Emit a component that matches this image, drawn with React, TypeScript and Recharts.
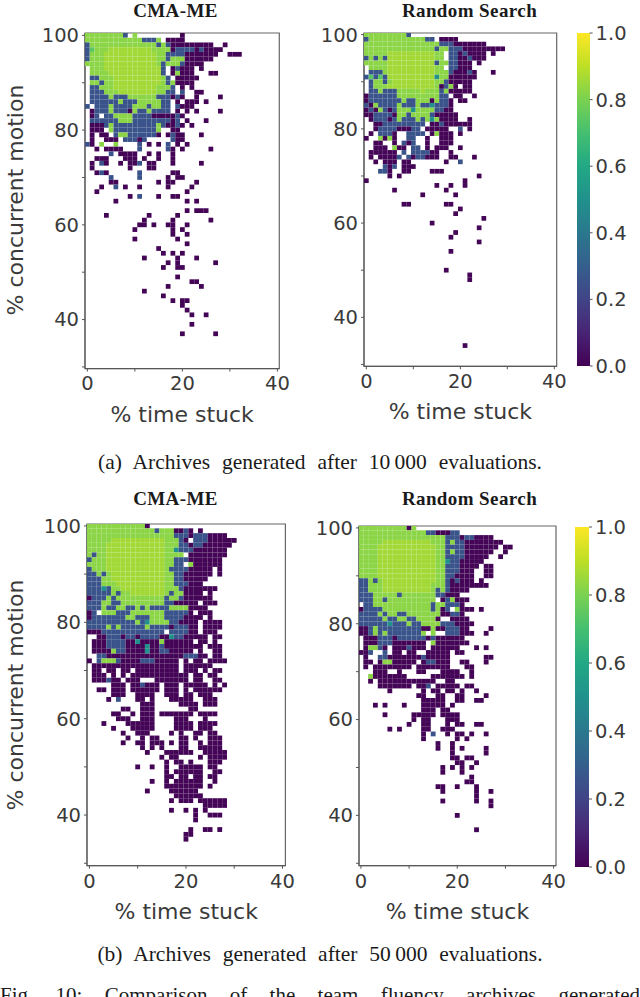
import { ScatterChart, Scatter, BarChart, Bar, XAxis, YAxis, ReferenceArea } from 'recharts'

// archive cells, one string per row starting at 100 % concurrent motion
// token = level letter + column (% time stuck), e.g. d3 or b12-14
const levelValues: Record<string, number> = { d: 0.01, b: 0.26, t: 0.5, g: 0.74, m: 0.825, l: 0.86 }

const cmaMe10k = [
  'm0-7 b8 m10 d20',
  'm0-11 b12-14 m15 d17-20',
  'b0 m1-14 b15 m16 b17 d18-26 d29',
  'b0 g1 m2-4 l5-13 m14-17 d18 b19-22 d23 b24 d25-28',
  'b0 m1-3 l4-14 m15-16 b17-20 d21-27 d30-32',
  'b0 m1-3 l4-14 m15-16 b17 m18-20 d21-26',
  'm0-3 l4-14 m15 b16 m17-19 b20 d21-24',
  'm1-3 l4-15 b16 d18 b19 d20-22 d24',
  'm1-4 l5-15 b16 d18 m19 d20-22 d26-27',
  'b1-2 m3-5 l6-15 m16 b17 d19-23',
  'm1-2 b3 m4-5 l6-15 m16 b17 m18 d19-22',
  'b1-2 m3-5 l6-14 m15-17 b18 d20 d22',
  'b1-3 m4-6 l7-14 m15-16 b17-18 b20 d23-24',
  'b1-4 m5 b6-8 m9-14 b15-17 d18 b19 d20 d23 d28',
  'b1-6 m7 b8-10 m11-15 b16-17 d19 d21-23 d25',
  'b0 b2-4 m5 b6-9 m10-12 b13 m14-15 b16-17 b19 d20-22',
  'd1 b2-4 m5 b6-8 d9 m10 b11-12 m13 b14-17 d19 d21 d23 d28',
  'd1 b2 b4-5 m6-9 b10-13 d14-18 b19 d20',
  'b1-6 m7-9 b10-17 d18 b19 d21 d25',
  'd1-3 b4 m5 b6-14 m15 b16 d17-18 b19 d20 d22',
  'd1-3 m5 b6-14 m15 d18-19',
  'd1 d3-4 b6 m7-8 b9-14 d15 d17 b18 d19-20 d24',
  'd1 d4-6 b8-10 d11 b12 b18 d19-20',
  'b0 d1 m3 m6 b11 d13 d15 b17 d19 d21',
  'd2 d4-7 b11 b17 d18 d20 d26',
  'b5 d7-10 d13 d15 d18',
  'd2-4 d8-10 d12 d15 d18',
  'd1 b3 d4 d7 d9-10 b11 d13-14 d18 d24',
  'd1 d9 d13-14',
  'd2 b3 d4 b11 d18-19',
  'b5 b11 d17 d19-20',
  'd5-6 d15 d17-18 d23',
  'd3 b6 d8 d11 d17 d22',
  'd2 d21',
  'd9 b11 d15 d18-19',
  'd6 d21 d23',
  '',
  'd21 d23-25',
  'd4 d13 d19',
  'd12 d18 d26',
  'd11-12 d14 d17-18 d21',
  'd10 d18 d20',
  'd18 d21',
  'd10 d19',
  'd21',
  'd15',
  'd16 d18 d20',
  'd12 d19 d23',
  'd17 d19 d27',
  'd16 d19-20',
  '',
  'd19',
  'd22-23',
  'd17 d24',
  'd12',
  'd16',
  'd18 d20-21',
  'd20',
  'd21',
  'd22 d25',
  '',
  'd22',
  '',
  'd20 d27',
]

const randomSearch10k = [
  'm0-8 b9',
  'b0 m1-12 b13-14 d16-19',
  'm0-15 b16-18 d19-25',
  'm0-14 b15 m16-17 b18-20 d21-29',
  'm0-4 l5-14 m15-16 b18-19 d20 b21 d22-25 d27',
  'b0 m1 b2 m3 b4 l5-14 m15-16 b18-19 d20-21 b22 d23-25',
  'm0-4 l5-14 b15 m16-17 b18-19 d20-22 d24',
  'm1-4 l5-14 m15-16 b18-19 d20-22',
  'b1-3 m4 l5-14 m15-17 b18 d19-21 b22 d23 d27',
  'b0 g1 b2 g3 b4 l5-14 t15 m16-17 d18-23',
  'b1 m2-3 b4 m5 l6-14 m15-16 b17 d18-22',
  'b1 m2-4 l5-14 m15 d16 b17 m18 d19 d21-22',
  'b1-2 m3 b4-6 m7-11 l12 m13-15 b16 m17 d18-22',
  'd0 b1-6 m7-15 b16-17 d19-20 d23',
  'd0 b1-7 m8 b9-10 m11-13 d14 m15 b16-17 d18 d20-21',
  'b0 d1 m2 b3-6 m7 b8-10 m11 b12-13 t14 b15-17 d18',
  'd0 b1 d2 m3 b4 d5 b6 m7-9 t10 m11-14 b15-16 d17-18',
  'd0-1 b2-5 d6 m7-8 b9 m10-13 b14 d15-19',
  'd1 b2-4 d5 b6 m7 b8-10 m11 b12 m13 t14 m15 d16-19 d22',
  'd2-3 b4-12 d14-15 b16 d17-22',
  'd2 b3-6 d7-9 b10-11 d13-17 b20 d22',
  'd1 b3-5 d6 b9-12 d14 m15 d16-18 d20',
  'd0 m3 d4 m5 d6 b9-10 d13 d16-18',
  'd2-3 d6 b8 d9 b10 d13 d16-18',
  'd2-4 m6 d7-8 b10-11 d13 d15-17 d20',
  'd1-6 b8 b10-12 b13 d14-15 d18',
  'd1 d3-6 b7 b9 d10 b11-12 d13-15 d18-19 d23',
  'd2 d4-6 d8-9 d17 b20',
  'b4 d5 b6 d8-10',
  'b3-4 d5 d8-9 d14-16',
  'd5 d7 d24',
  'd0 d21',
  'd15 d18 d21',
  'd6 d17',
  'd12 d19',
  '',
  'd8-9 d17-18',
  'd20',
  'd19',
  'd25',
  'd14',
  'd24',
  'd19',
  'd18',
  'd24',
  '',
  'd18',
  '',
  '',
  '',
  'd17',
  'd22',
  'd22',
  '',
  '',
  '',
  '',
  '',
  '',
  '',
  '',
  '',
  '',
  '',
  '',
  '',
  'd21',
]

const cmaMe50k = [
  'm0-11 d12',
  'm0-13 b14 m15-17 d18-19 b20 d21 d23',
  'm0-17 b18-20 d21 b22-24 d25-28',
  'm0-4 l5-15 m16-18 b19 d20 b22-24 d25-30',
  'm0-3 l4-15 m16-18 b19-20 d21 b22-23 d24-29',
  'm0-3 l4-15 m16-17 t18 b19-21 d22-28',
  'm0 b1 m2-3 l4-15 m16-18 m19 d21-28',
  'b0 m1-3 l4-15 m16-17 b18-20 d21-27',
  'm0-3 l4-15 m16-17 b18-19 m21 d22-27',
  'b0 m1-3 l4-15 m16 b17-20 d21-25 d27',
  'b0-1 m2 b3 m4 l5-15 m16-17 b18-20 d20-25 d27',
  'b0-2 m3-4 l5-15 m16-17 b18-20 d20-24',
  'b0-2 m3-5 l6-15 m16-17 b18-20 d21-23',
  'b0-2 t3 b4 m5-6 l7-15 m16-18 b19 d20-26',
  'b0-4 m5 b6 m7-8 l9-15 m16 b17 m18-19 d20-23 d25',
  'd0 b1-3 m4 b5 m6-15 b16 m17-18 b19 d20-25',
  'b0-2 m3-4 b5-6 m7-15 b16-17 d18-19 d20-22 d24-26',
  'b0-2 m3 b4-5 m6-7 b8-9 m10 b11 m12 b13-16 m17-19 m20 d21-24',
  'd0 b1 m3-5 b6-8 m9-15 b16-20 d21 d23-25',
  'd0 b1-6 b7 m8-9 b10-12 m13-15 b16-19 d20-23 d25',
  'b0-9 m10 b11 t12 m13-16 b17-18 d19-22 d24-27',
  'b0-3 m4 b5 m6 b7-11 m12 b13-16 d17 b18-20 d21-22 d24-27',
  'd0-2 b3-10 b11-12 b13-15 b17-20 d21-22 d24-26',
  'd2-3 b4-6 d7 b8-9 d10 b11-14 d15-16 t17 b18-19 d20-24 d26-27',
  'd1-3 b4-7 d8-9 t10 d11-14 m15 d16-21 d23-24 d26',
  'd1-3 b4-7 d8-14 t12 b15 d16-23 d25-27',
  'd1-4 m5 b6-7 d8-11 t12 d13-14 b15-16 d17-21 d23 d26-27',
  'b2-3 d4-7 d8-18 d19 b20-22 d23-24 d26-27',
  'd0 b2 m3-5 b6 d7-10 b11-13 d14-18 d20 d22-23 d25-28',
  'd1-4 d5-7 d8-18 d20-25',
  'd1-2 d4-5 d7-8 d10-18 d20-22 d24 d26-27',
  'd1-3 d5 d7 d9-20 d22-23 d25-26',
  'd1-3 b4 d5-6 d8-10 d14-20 d22-23 d26-27',
  'd5-7 d9-10 b11 d12-14 d16-18 d20-24 d26 d28',
  'd2-3 d5-7 d9-14 d16-18 d20 d22-27',
  'd5-7 d10-13 d16-18 d20-21 d23-25',
  'd4 b6 d10-11 d13 d17-21 d24-26',
  'd11-13 d19-22 d24-26',
  'd7-8 d11-13 d21-22',
  'd5-6 d9 d11-13 d15-21 d23-26',
  'd6-8 d11-13 d18-20 d24',
  'd3 d8-13 d18-21 d23-26',
  'd5 d9-13 d18-21 d23-25',
  'd7 d10-12 d17 d19 d22-23 d25-26',
  'd8 d11 d13-14 d19-20 d22 d25-27',
  'd7 d10-11 d13-15 d17 d19-20 d23 d25-27',
  'd11 d13 d15 d19-20 d23-27',
  'd12 d16-21 d24-28',
  'd15 d17-18 d23 d25-28',
  'd16 d18-19 d21 d25-27',
  'd10 d13 d16 d19-23 d25-26',
  'd16 d18-23 d26-27',
  'd16-17 d19-20 d22-23 d25-26',
  'd13 d16 d18-23 d26',
  'd16-23 d25',
  'd12 d17-22',
  'd18-23',
  'd17 d19-21 d23-28',
  'd24-28',
  'd17 d20 d22 d24',
  'd22 d25-27',
  'd22',
  '',
  'd21 d24-25 d27',
  'd20-21',
  'd20',
]

const randomSearch50k = [
  'm0-9 d10 m11',
  'm0-13 b14-15 d16-18 b19-20',
  'm0-17 b18-20 d21 b22-23 d24-27',
  'm0-4 l5-14 m15-17 b18 m19 b20-21 d22-29',
  'm0-3 l4-15 m16-17 b18-21 d22-28 d30-31',
  'm0-3 l4-15 m16-17 b18 m19 b20-21 d22-27 d30',
  'm0-3 l4-15 m16-17 b18-21 d22-26 d29',
  'm0-3 l4-15 m16-17 t18 b19-20 d21-25',
  'm0-3 l4-15 m16-17 b18-20 d21-24 d26-27',
  'm0-3 l4-15 m16-17 b18-20 d21-23 d26-27',
  'm0-3 l4-15 m16-17 b18-19 d20-23 d26-27',
  'b0-1 m2 b3 m4 l5-15 m16-17 b18 d19 b20 d21-23 d25',
  'b0-1 m2-4 l5-14 m15-17 b18 d19-24 d25-26',
  'b0-1 m2-4 l5-14 m15 b16 m17 b18 d19-22',
  'b0-2 m3-7 b8 m9-14 m15 b16-17 d18-20',
  'b0-2 m3-4 b5 m6-15 d17 b18 m19 d20-22',
  'b1-2 m3-8 m9-14 b15 m16-17 b18-20 d21',
  'd0 b1-4 m5-9 m10-14 b15 m16 d17 b18 m20 d21-23 d25',
  'b0-3 m4 b5 m6-7 b8-9 m10-15 m16 d17-18 b19-20 d21',
  'b0-4 m5 b6-7 m8-9 b10-11 m12-15 d16 d19-22',
  'b0-5 t6 b7-9 m10 b11-12 m13-16 b17-19 d20-23',
  'd0-1 b2 m3 b4-6 b7-12 d13-14 m15 d16-17 b18-20 d21-22 d27',
  'd0-1 b2 m3 b4 m5 b6-12 m13 m15 b18-20 d21-23 d26',
  'd1-3 b4-6 d7 b8-13 d14 b15 d16-21',
  'd1-3 b4-6 d7-13 m15 d16-18 d19-22',
  'd1 m2-3 b4 d5 d7-9 b10 d11-13 d15-20 d24 d26',
  'd0-1 b2 b5 d7-8 d10-11 d14-18 d20-21',
  'd1 b4-5 d6-12 b13 d14-18 d26-27',
  'd1-2 d4 m5-6 d7-11 d13 b14-15 d16-18 d21-22 d26',
  'd1 d3-7 d8-10 d12-18 d22-23',
  'd3-5 d8 d12-13 d17-20 d23',
  'm2 d3-9 d15-21 d23',
  'd2 d4-7 d8-12 d13-15 d18-19',
  'd4-6 d7-10 d12-13 b14 d16-20 d22-23',
  'd6 d13 d15 d16 d18-19 d21 d24',
  'd12-13 d16-17 d20-21 d26',
  'd13-17 d20-21 d24-25',
  'd3 d5 d9 d13-17 d19',
  'd13-15 d17-18',
  'd5 d11-15 d17-20',
  'd11 d13-14 d18-20',
  'd10 d13-14 d18 d20-21 d24-25',
  'd6 d8 d13-14 d17-19',
  'd13 b15 d18 d20-21 d23 d26',
  'd13 d20 d22',
  'd16 d19',
  'd16 d19 d21 d26',
  'd19 d26',
  'd19-20 d22-23',
  'd20-21 d24',
  'd17 d19 d21 d23',
  'd17 d21',
  'd23',
  'd22-23',
  'd16-17 d20 d24',
  'd17 d24 d27',
  'd24',
  'd17 d24 d27',
  'd27',
  '',
  'd20',
  '',
  '',
  'd24',
]

const xTicks = [0, 10, 20, 30, 40]
const xTickLabels = [0, 20, 40]
const yTicks = [30, 40, 50, 60, 70, 80, 90, 100]
const yTickLabels = [40, 60, 80, 100]
const colorbarTicks = [0, 0.2, 0.4, 0.6, 0.8, 1]
const colorbarData = [{ name: 'objective', top: 1 }]
const viridisStops = ['#440154', '#482475', '#414487', '#355f8d', '#2a788e', '#21918c', '#22a884', '#44bf70', '#7ad151', '#bddf26', '#fde725']

const inkColor = '#3a3a3a'
const tickFont = 'DejaVu Sans'

function viridis(v: number) {
  const pos = v * (viridisStops.length - 1)
  const i = Math.min(Math.floor(pos), viridisStops.length - 2)
  const t = pos - i
  const ch = (hex: string, k: number) => parseInt(hex.slice(1 + k * 2, 3 + k * 2), 16)
  const mix = [0, 1, 2].map((k) => Math.round(ch(viridisStops[i], k) * (1 - t) + ch(viridisStops[i + 1], k) * t))
  return `rgb(${mix.join(',')})`
}

function parseRows(rows: string[]) {
  const cells = new Map<string, { x: number; y: number; v: number }>()
  rows.forEach((row, i) => {
    row.split(' ').filter(Boolean).forEach((token) => {
      const m = /^([a-z])(\d+)(?:-(\d+))?$/.exec(token)
      if (!m) return
      const from = Number(m[2])
      const to = m[3] ? Number(m[3]) : from
      for (let c = from; c <= to; c++) {
        cells.set(`${c}-${i}`, { x: c, y: 100 - i, v: levelValues[m[1]] })
      }
    })
  })
  return Array.from(cells.values())
}

interface PanelProps {
  rows: string[]
  box: { left: number; right: number; top: number; bottom: number }
  xDomain: [number, number]
  yDomain: [number, number]
  showYLabel?: boolean
  fontSize: number
}

const AXIS_W = 62
const AXIS_H = 62
const PAD = 16
const PAD_RIGHT = 26

function Panel({ rows, box, xDomain, yDomain, showYLabel, fontSize }: PanelProps) {
  const plotW = box.right - box.left
  const plotH = box.bottom - box.top
  const cellW = plotW / (xDomain[1] - xDomain[0])
  const cellH = plotH / (yDomain[1] - yDomain[0])
  const data = parseRows(rows)

  const renderCell = (props: any) => (
    <rect
      x={props.cx - cellW / 2}
      y={props.cy - cellH / 2}
      width={cellW}
      height={cellH}
      fill={viridis(props.payload.v)}
    />
  )

  const tickStyle = { fontSize, fontFamily: tickFont, fill: inkColor }

  return (
    <div style={{ position: 'absolute', left: box.left - AXIS_W, top: box.top - PAD }}>
      <ScatterChart
        width={AXIS_W + plotW + PAD_RIGHT}
        height={PAD + plotH + AXIS_H}
        margin={{ top: PAD, right: PAD_RIGHT, bottom: 0, left: 0 }}
      >
        <XAxis
          type="number"
          dataKey="x"
          domain={xDomain}
          allowDataOverflow
          ticks={xTicks}
          interval={0}
          height={AXIS_H}
          tickSize={3}
          tickMargin={5}
          stroke="#555"
          tick={tickStyle}
          tickFormatter={(t: number) => (xTickLabels.includes(t) ? String(t) : '')}
          label={{
            value: '% time stuck',
            position: 'insideBottom',
            offset: 9,
            style: { fontSize: fontSize + 2.5, fontFamily: tickFont, fill: inkColor },
          }}
        />
        <YAxis
          type="number"
          dataKey="y"
          domain={yDomain}
          allowDataOverflow
          ticks={yTicks}
          interval={0}
          width={AXIS_W}
          tickSize={3}
          tickMargin={3}
          stroke="#555"
          tick={tickStyle}
          tickFormatter={(t: number) => (yTickLabels.includes(t) ? String(t) : '')}
        />
        <Scatter data={data} isAnimationActive={false} shape={renderCell} />
        <ReferenceArea x1={xDomain[0]} x2={xDomain[1]} y1={yDomain[0]} y2={yDomain[1]} fill="none" stroke="#666" strokeWidth={1.2} />
      </ScatterChart>
      {showYLabel && (
        <div
          style={{
            position: 'absolute',
            left: -(box.left - AXIS_W) + 15,
            top: PAD + plotH * 0.5,
            transform: 'translate(-50%, -50%) rotate(-90deg)',
            whiteSpace: 'nowrap',
            fontFamily: tickFont,
            fontSize: fontSize + 2.5,
            color: inkColor,
          }}
        >
          % concurrent motion
        </div>
      )}
    </div>
  )
}

function Colorbar({ id, left, right, top, bottom, fontSize }: { id: string; left: number; right: number; top: number; bottom: number; fontSize: number }) {
  const axisW = 50
  return (
    <div style={{ position: 'absolute', left, top: top - PAD }}>
      <BarChart
        width={right - left + axisW}
        height={bottom - top + PAD * 2}
        margin={{ top: PAD, right: 0, bottom: PAD, left: 0 }}
        data={colorbarData}
        barCategoryGap={0}
      >
        <defs>
          <linearGradient id={id} x1="0" y1="1" x2="0" y2="0">
            {viridisStops.map((c, i) => (
              <stop key={c} offset={i / (viridisStops.length - 1)} stopColor={c} />
            ))}
          </linearGradient>
        </defs>
        <XAxis dataKey="name" hide />
        <YAxis
          type="number"
          orientation="right"
          domain={[0, 1]}
          ticks={colorbarTicks}
          interval={0}
          width={axisW}
          axisLine={false}
          tickSize={3}
          tickMargin={3}
          stroke="#555"
          tick={{ fontSize, fontFamily: tickFont, fill: inkColor }}
          tickFormatter={(t: number) => t.toFixed(1)}
        />
        <Bar dataKey="top" fill={`url(#${id})`} isAnimationActive={false} />
      </BarChart>
    </div>
  )
}

function Label({ x, y, width, size, bold, children, justify, wordSpacing, letterSpacing }: any) {
  return (
    <div
      style={{
        position: 'absolute',
        left: x,
        top: y,
        width,
        fontFamily: 'Liberation Serif',
        fontSize: size,
        fontWeight: bold ? 700 : 400,
        color: '#1a1a1a',
        lineHeight: 1,
        whiteSpace: 'nowrap',
        wordSpacing,
        letterSpacing,
        textAlign: justify ? 'justify' : 'center',
        textAlignLast: justify ? 'justify' : 'center',
      }}
    >
      {children}
    </div>
  )
}

export default function App() {
  return (
    <div style={{ position: 'fixed', left: 0, top: 0, width: 640, height: 997, overflow: 'hidden', background: '#fff' }}>
      <Label x={88} y={1} width={175} size={19} letterSpacing={0.4} bold>CMA-ME</Label>
      <Label x={382} y={1} width={175} size={19} letterSpacing={0.4} bold>Random Search</Label>
      <Panel rows={cmaMe10k} box={{ left: 85, right: 279.3, top: 32.7, bottom: 368.3 }} xDomain={[-0.5, 40.4]} yDomain={[29.65, 100.5]} showYLabel fontSize={19.5} />
      <Panel rows={randomSearch10k} box={{ left: 364, right: 556.7, top: 32.7, bottom: 366 }} xDomain={[-0.5, 40.5]} yDomain={[29.6, 100.35]} fontSize={19.5} />
      <Colorbar id="cbA" left={576.7} right={589.3} top={32.7} bottom={365.7} fontSize={19.5} />
      <Label x={0} y={452} width={640} size={21.5} wordSpacing={6.5}>(a) Archives generated after 10&#8201;000 evaluations.</Label>

      <Label x={88} y={489} width={175} size={19} letterSpacing={0.4} bold>CMA-ME</Label>
      <Label x={382} y={489} width={175} size={19} letterSpacing={0.4} bold>Random Search</Label>
      <Panel rows={cmaMe50k} box={{ left: 87.3, right: 285.7, top: 524, bottom: 865.7 }} xDomain={[-0.5, 40.6]} yDomain={[29.5, 100.4]} showYLabel fontSize={19.5} />
      <Panel rows={randomSearch50k} box={{ left: 358.7, right: 555.7, top: 526.3, bottom: 866 }} xDomain={[-0.4, 40.5]} yDomain={[29.5, 100.4]} fontSize={19.5} />
      <Colorbar id="cbB" left={575} right={589} top={526.7} bottom={866.7} fontSize={19.5} />
      <Label x={0} y={944} width={640} size={21.5} wordSpacing={6.5}>(b) Archives generated after 50&#8201;000 evaluations.</Label>
      <Label x={0} y={985} width={640} size={21} justify>Fig. 10: Comparison of the team fluency archives generated</Label>
    </div>
  )
}
